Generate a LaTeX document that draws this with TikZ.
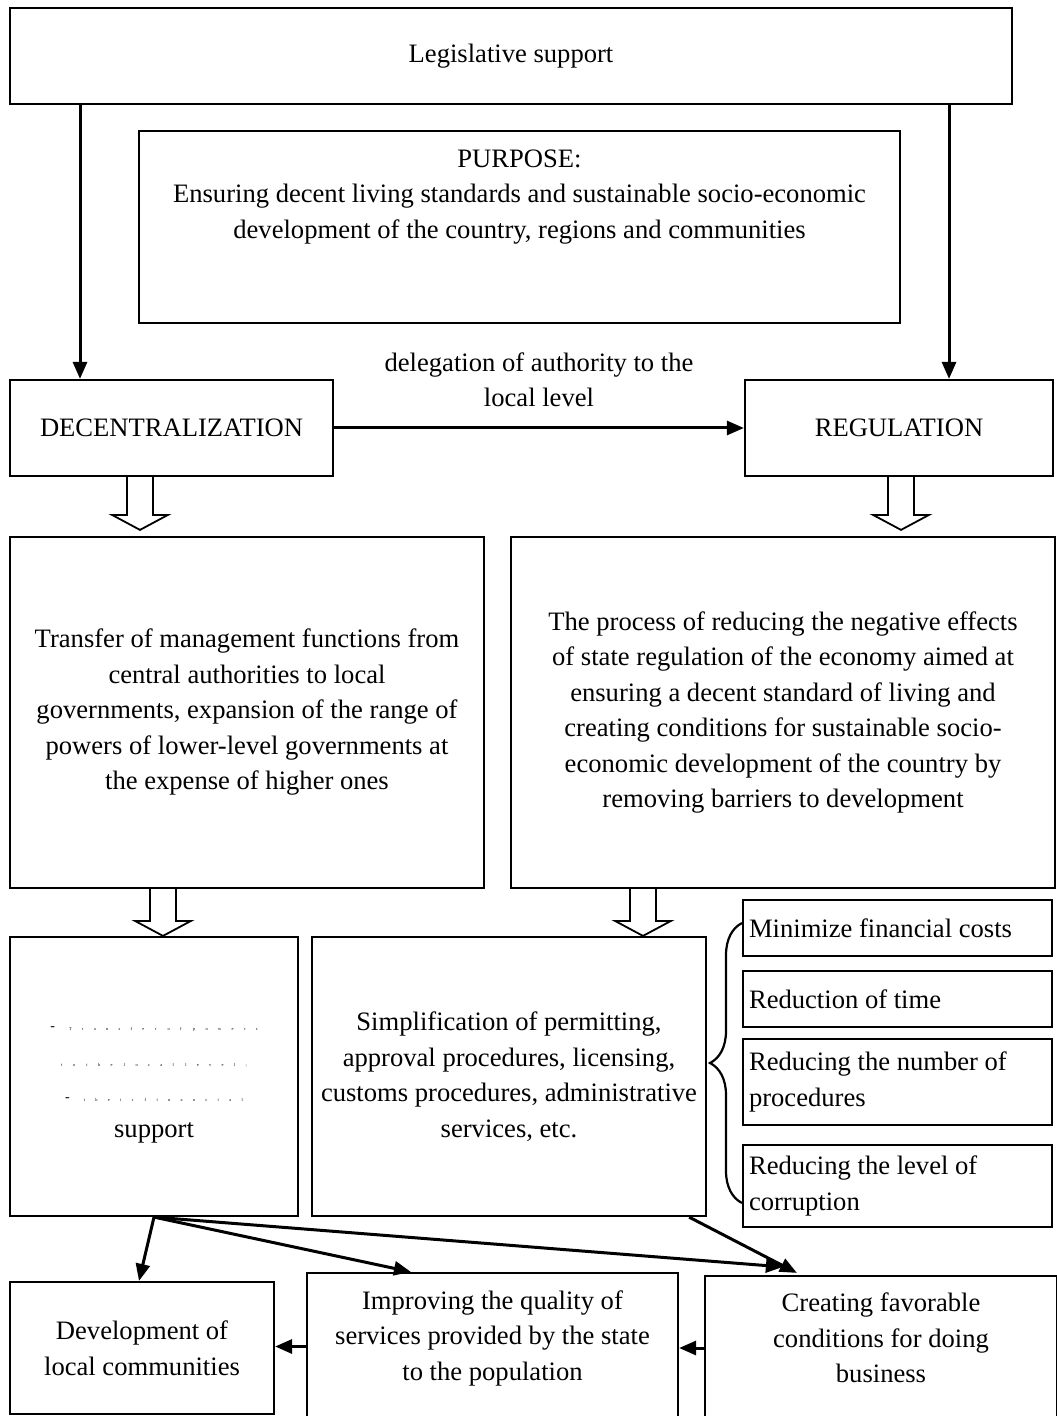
\documentclass[tikz,border=0pt]{standalone}
\usepackage{fontspec}
\setmainfont{Liberation Serif}
\newfontfamily\tinyspaced[LetterSpace=235]{Liberation Serif}
\usetikzlibrary{arrows.meta,calc,decorations.pathreplacing}

\newcommand\mainfs{\fontsize{13.3}{17.75}\selectfont}
\newcommand\dotline[1]{{\tinyspaced\fontsize{2.2}{2.2}\selectfont #1}}
\newcommand\dotdash{{\fontsize{7}{7}\selectfont -}\hspace{7pt}}
% hollow block arrow: x, upper node, lower node, gap
\newcommand\fatarrow[4]{%
  \draw[fatarr] let \p0=(#1,0), \p1=(#2.south), \p2=(#3.north) in
    (\x0-6.5pt,\y1) -- (\x0-6.5pt,\y2+#4+7.5pt) -- (\x0-14pt,\y2+#4+7.5pt) -- (\x0,\y2+#4)
    -- (\x0+14pt,\y2+#4+7.5pt) -- (\x0+6.5pt,\y2+#4+7.5pt) -- (\x0+6.5pt,\y1);}

\begin{document}
\begin{tikzpicture}[x=0.5pt,y=-0.5pt,
  box/.style={draw,line width=1.1pt,inner sep=0pt,align=center,font=\mainfs},
  item/.style={draw,line width=1.1pt,inner xsep=3pt,inner ysep=0pt,align=flush left,font=\mainfs,text width=148.5pt},
  arr/.style={-{Triangle[length=8.5pt,width=7pt]},line width=1.5pt},
  fatarr/.style={line width=0.9pt,line join=miter}]
  \useasboundingbox (0,0) rectangle (1056,1416);

  % top
  \node[box,minimum width=501pt,minimum height=48pt] (leg) at (511,56) {Legislative support};
  \node[box,minimum width=380.5pt,minimum height=96pt] (purp) at (519.5,227) {};
  \node[anchor=north,align=center,font=\mainfs] (purptxt) at ([yshift=-6.25pt]purp.north)
  {PURPOSE:\\Ensuring decent living standards and sustainable socio-economic\\development of the country, regions and communities};

  \node[box,minimum width=161.5pt,minimum height=48pt] (dec) at (171.5,428) {DECENTRALIZATION};
  \node[box,minimum width=154pt,minimum height=48pt] (reg) at (899,428) {REGULATION};

  \draw[arr] (leg.south -| 80,0) -- (dec.north -| 80,0);
  \draw[arr] (leg.south -| 949,0) -- (reg.north -| 949,0);
  \draw[arr] (dec.east) -- node[above=6.5pt,align=center,font=\mainfs]{delegation of authority to the\\local level} (reg.west);

  % definitions
  \node[box,minimum width=237pt,minimum height=175.5pt] (trans) at (247,712.5)
  {Transfer of management functions from\\central authorities to local\\governments, expansion of the range of\\powers of lower-level governments at\\the expense of higher ones};
  \node[box,minimum width=272pt,minimum height=175.5pt] (proc) at (783,712.5)
  {The process of reducing the negative effects\\of state regulation of the economy aimed at\\ensuring a decent standard of living and\\creating conditions for sustainable socio-\\economic development of the country by\\removing barriers to development};

  \fatarrow{140}{dec}{trans}{3pt}
  \fatarrow{901}{reg}{proc}{3pt}

  % instruments
  \node[box,minimum width=144pt,minimum height=139.5pt] (fin) at (154,1076.5)
  {\rule{0pt}{10.5pt}\dotdash\dotline{Transfer of powers}\\\dotline{to the local level;}\\\dotdash\dotline{their financial}\\support};
  \node[box,minimum width=197pt,minimum height=139.5pt] (simp) at (509,1076.5)
  {Simplification of permitting,\\approval procedures, licensing,\\customs procedures, administrative\\services, etc.};

  \fatarrow{163}{trans}{fin}{0pt}
  \fatarrow{643}{proc}{simp}{0pt}

  \node[item,minimum height=28pt] (r1) at (897.5,928) {Minimize financial costs};
  \node[item,minimum height=28pt] (r2) at (897.5,999) {Reduction of time};
  \node[item,minimum height=43pt] (r3) at (897.5,1082) {Reducing the number of\\procedures};
  \node[item,minimum height=41pt] (r4) at (897.5,1186) {Reducing the level of\\corruption};
  \draw[line width=1.1pt,decorate,decoration={brace,amplitude=16pt}] (742,1203) -- (742,923);

  % results
  \node[box,minimum width=132pt,minimum height=66pt] (dev) at (142,1348) {Development of\\local communities};
  \node[box,minimum width=185.5pt,minimum height=73.5pt] (impr) at (492.5,1346.5)
  {Improving the quality of\\services provided by the state\\to the population\rule[-10.9pt]{0pt}{0pt}};
  \node[box,minimum width=176pt,minimum height=72pt] (creat) at (881,1348)
  {Creating favorable\\conditions for doing\\business\rule[-10pt]{0pt}{0pt}};

  \draw[arr] (fin.south) -- ([xshift=-1.5pt]dev.north);
  \draw[arr] (fin.south) -- ([xshift=52.5pt]impr.north west);
  \draw[arr] (fin.south) -- ([xshift=39.5pt,yshift=4pt]creat.north west);
  \draw[arr] ([xshift=-9pt]simp.south east) -- ([xshift=46.5pt,yshift=1pt]creat.north west);
  \draw[arr] (impr.west) -- (impr.west -| dev.east);
  \draw[arr] (creat.west) -- (creat.west -| impr.east);
\end{tikzpicture}
\end{document}
